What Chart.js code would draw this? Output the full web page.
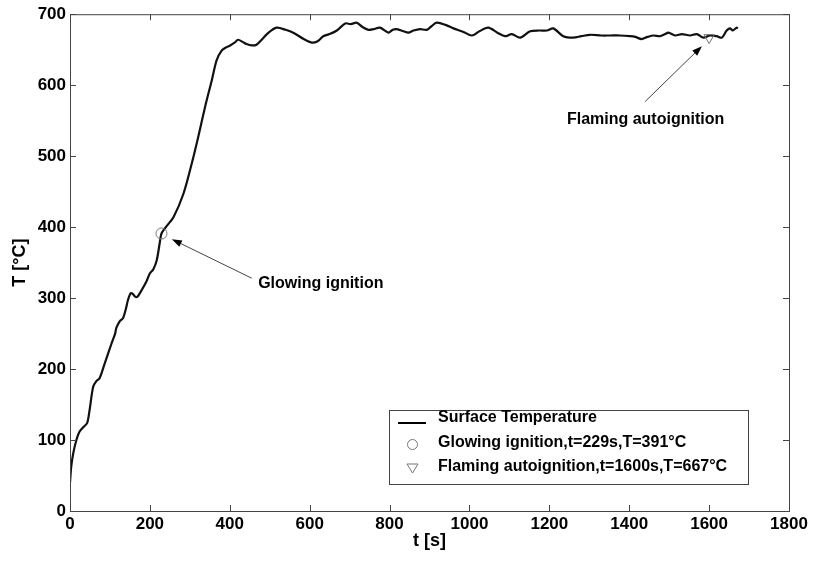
<!DOCTYPE html>
<html>
<head>
<meta charset="utf-8">
<script src="https://cdn.jsdelivr.net/npm/chart.js@4.4.0/dist/chart.umd.min.js"></script>
<style>
  body { margin: 0; background: #fff; }
  canvas { display: block; }
</style>
</head>
<body>
<canvas id="chart" width="814" height="561"></canvas>
<script>
// surface temperature curve
var times = [0, 3, 8, 16, 24, 35, 43, 49, 58, 66, 74, 87, 104, 113, 116, 124, 133, 140, 145, 152, 157, 163, 169, 175, 191, 200, 208, 217, 225, 229, 240, 259, 284, 305, 321, 338, 355, 367, 380, 390, 401, 412, 421, 432, 442, 455, 467, 480, 495, 517, 540, 559, 585, 605, 620, 634, 650, 668, 689, 703, 718, 732, 747, 760, 776, 797, 808, 818, 835, 847, 860, 876, 893, 905, 918, 940, 960, 985, 1006, 1025, 1047, 1070, 1089, 1106, 1127, 1152, 1175, 1194, 1210, 1235, 1260, 1280, 1302, 1330, 1352, 1377, 1402, 1415, 1431, 1446, 1461, 1477, 1490, 1498, 1515, 1532, 1552, 1569, 1586, 1602, 1619, 1632, 1644, 1653, 1659, 1669, 1672];
var temps = [40, 62, 81, 100, 112, 119, 124, 142, 175, 183, 187, 208, 236, 250, 258, 267, 272, 285, 297, 307, 306, 302, 302, 307, 323, 335, 340, 353, 379, 391, 400, 414, 447, 490, 527, 569, 607, 635, 649, 653, 656, 660, 664, 661, 658, 656, 657, 664, 673, 681, 678, 674, 665, 660, 662, 669, 672, 677, 687, 686, 688, 682, 678, 679, 681, 674, 678, 679, 676, 674, 677, 679, 678, 683, 688, 685, 680, 675, 670, 676, 681, 674, 669, 672, 667, 676, 677, 677, 680, 669, 667, 669, 671, 670, 670, 670, 669, 668, 665, 668, 670, 669, 672, 674, 670, 672, 670, 672, 667, 670, 669, 667, 677, 680, 677, 681, 680];

var glowT = 229, glowTemp = 391;
var flameT = 1600, flameTemp = 667;

var xTicks = { min: 0, max: 1800, step: 200 };
var yTicks = { min: 0, max: 700, step: 100 };

// annotation text and arrows (data units)
var notes = [
  { text: 'Glowing ignition', tx: 471, ty: 320, from: [455, 328], to: [255, 383] },
  { text: 'Flaming autoignition', tx: 1244, ty: 551, from: [1440, 577], to: [1582, 655] }
];

var FONT = '"Liberation Sans", Arial, sans-serif';

var series = [];
for (var i = 0; i < times.length; i++) series.push({ x: times[i], y: temps[i] });

var frame = {
  id: 'frame',
  afterDraw: function(chart) {
    var c = chart.ctx, a = chart.chartArea;
    var xs = chart.scales.x, ys = chart.scales.y;
    c.save();
    c.strokeStyle = '#444';
    c.lineWidth = 1;
    c.strokeRect(a.left + 0.5, a.top + 0.5, a.right - a.left, a.bottom - a.top);
    c.beginPath();
    xs.ticks.forEach(function(t) {
      var px = Math.round(xs.getPixelForValue(t.value)) + 0.5;
      c.moveTo(px, a.bottom); c.lineTo(px, a.bottom - 6);
      c.moveTo(px, a.top); c.lineTo(px, a.top + 6);
    });
    ys.ticks.forEach(function(t) {
      var py = Math.round(ys.getPixelForValue(t.value)) + 0.5;
      c.moveTo(a.left, py); c.lineTo(a.left + 6, py);
      c.moveTo(a.right, py); c.lineTo(a.right - 6, py);
    });
    c.stroke();

    // annotations
    c.font = 'bold 16px ' + FONT;
    c.fillStyle = '#000';
    c.textBaseline = 'middle';
    notes.forEach(function(n) {
      c.textAlign = 'left';
      c.fillText(n.text, xs.getPixelForValue(n.tx), ys.getPixelForValue(n.ty));
      var x1 = xs.getPixelForValue(n.from[0]), y1 = ys.getPixelForValue(n.from[1]);
      var x2 = xs.getPixelForValue(n.to[0]), y2 = ys.getPixelForValue(n.to[1]);
      var ang = Math.atan2(y2 - y1, x2 - x1);
      c.strokeStyle = '#444';
      c.beginPath(); c.moveTo(x1, y1); c.lineTo(x2 - 6 * Math.cos(ang), y2 - 6 * Math.sin(ang)); c.stroke();
      c.fillStyle = '#000';
      c.beginPath();
      c.moveTo(x2, y2);
      c.lineTo(x2 - 10 * Math.cos(ang) + 3.5 * Math.sin(ang), y2 - 10 * Math.sin(ang) - 3.5 * Math.cos(ang));
      c.lineTo(x2 - 10 * Math.cos(ang) - 3.5 * Math.sin(ang), y2 - 10 * Math.sin(ang) + 3.5 * Math.cos(ang));
      c.closePath(); c.fill();
    });

    // legend box
    var bx = 389, by = 410, bw = 359, bh = 74;
    c.fillStyle = '#fff';
    c.fillRect(bx, by, bw, bh);
    c.strokeStyle = '#444';
    c.strokeRect(bx + 0.5, by + 0.5, bw, bh);
    c.fillStyle = '#000';
    c.textBaseline = 'alphabetic';
    var ds = chart.data.datasets;
    var rows = [422, 447, 471];
    ds.forEach(function(d, k) {
      c.fillText(d.label, 438, rows[k]);
    });
    c.strokeStyle = '#000'; c.lineWidth = 2;
    c.beginPath(); c.moveTo(398, 423); c.lineTo(426, 423); c.stroke();
    c.strokeStyle = '#777'; c.lineWidth = 1;
    c.beginPath(); c.arc(412.5, 444.5, 5, 0, Math.PI * 2); c.stroke();
    c.beginPath(); c.moveTo(407, 464); c.lineTo(418, 464); c.lineTo(412.5, 473); c.closePath(); c.stroke();
    c.restore();
  }
};

var tickFont = { family: FONT, size: 17, weight: 'bold' };
var titleFont = { family: FONT, size: 18, weight: 'bold' };
function plain(v) { return String(v); }

new Chart(document.getElementById('chart').getContext('2d'), {
  type: 'line',
  data: {
    datasets: [
      { label: 'Surface Temperature', data: series, borderColor: '#111', borderWidth: 2.2, pointRadius: 0, tension: 0.3, fill: false, order: 2 },
      { label: 'Glowing ignition,t=' + glowT + 's,T=' + glowTemp + '°C', data: [{ x: glowT, y: glowTemp }], showLine: false,
        pointStyle: 'circle', pointRadius: 5.5, borderColor: '#777', backgroundColor: 'rgba(0,0,0,0)', borderWidth: 1, order: 1 },
      { label: 'Flaming autoignition,t=' + flameT + 's,T=' + flameTemp + '°C', data: [{ x: flameT, y: flameTemp }], showLine: false,
        pointStyle: 'triangle', rotation: 180, pointRadius: 6, borderColor: '#777', backgroundColor: 'rgba(0,0,0,0)', borderWidth: 1, order: 1 }
    ]
  },
  options: {
    responsive: false,
    animation: false,
    layout: { padding: { left: 0, top: 14, right: 25, bottom: 0 } },
    plugins: { legend: { display: false }, tooltip: { enabled: false } },
    scales: {
      x: {
        type: 'linear', min: xTicks.min, max: xTicks.max,
        ticks: { stepSize: xTicks.step, color: '#000', font: tickFont, padding: 3, maxRotation: 0, callback: plain },
        grid: { display: false, drawTicks: false }, border: { display: false },
        title: { display: true, text: 't [s]', color: '#000', font: titleFont, padding: { top: 0, bottom: 9 } },
        afterFit: function(s) { s.height = 50; }
      },
      y: {
        min: yTicks.min, max: yTicks.max,
        ticks: { stepSize: yTicks.step, color: '#000', font: tickFont, padding: 4, callback: plain },
        grid: { display: false, drawTicks: false }, border: { display: false },
        title: { display: true, text: 'T [°C]', color: '#000', font: titleFont, padding: { top: 9, bottom: 0 } },
        afterFit: function(s) { s.width = 70; }
      }
    }
  },
  plugins: [frame]
});
</script>
</body>
</html>
